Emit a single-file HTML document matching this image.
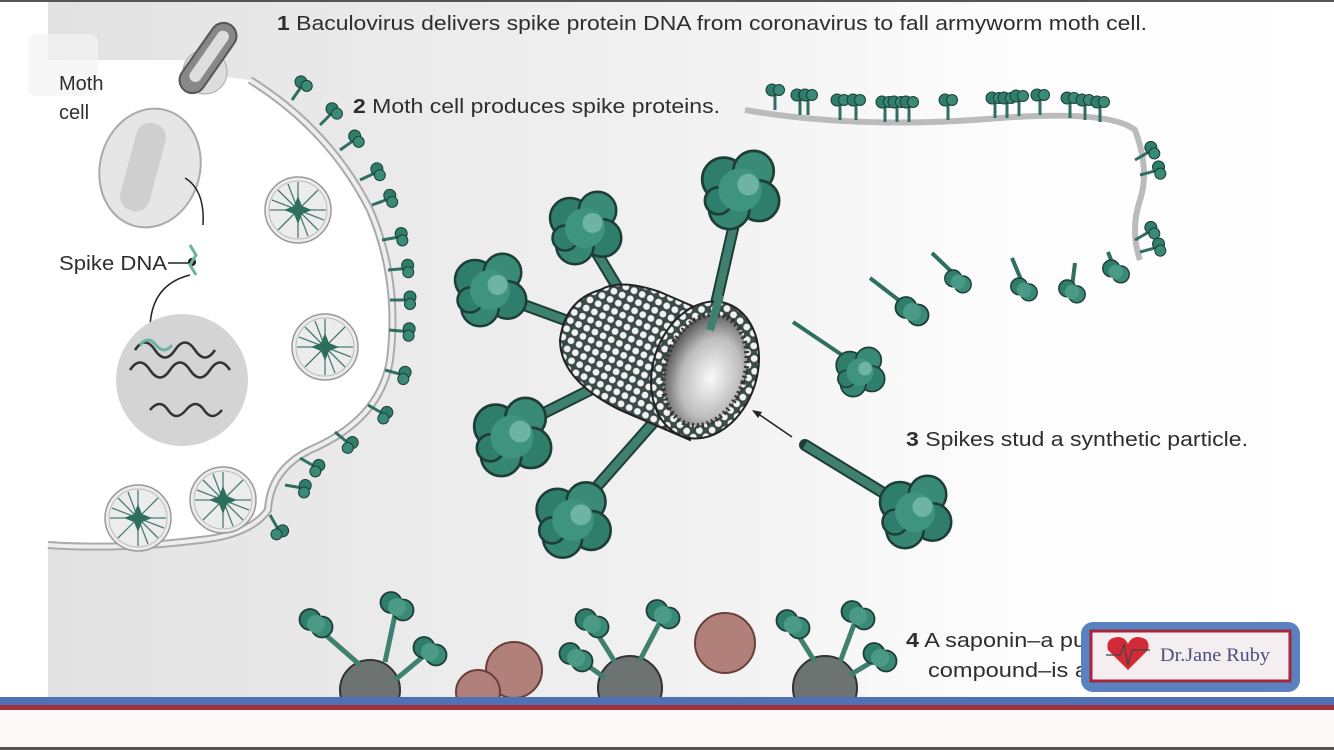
<!DOCTYPE html>
<html><head><meta charset="utf-8"><style>
html,body{margin:0;padding:0;width:1334px;height:750px;overflow:hidden;background:#fff}
svg{display:block}
text{font-family:"Liberation Sans",sans-serif;fill:#2e2e2e}
</style></head><body>
<svg width="1334" height="750" viewBox="0 0 1334 750" xmlns="http://www.w3.org/2000/svg">
<defs>
<linearGradient id="bg" x1="0" y1="0" x2="1" y2="0">
<stop offset="0" stop-color="#e2e2e2"/><stop offset="0.55" stop-color="#f3f3f3"/><stop offset="0.75" stop-color="#fdfdfd"/><stop offset="1" stop-color="#fff"/>
</linearGradient>
<radialGradient id="hole" cx="0.6" cy="0.55" r="0.6">
<stop offset="0" stop-color="#fafafa"/><stop offset="0.6" stop-color="#bdbdbd"/><stop offset="1" stop-color="#555"/>
</radialGradient>
<pattern id="dots" width="9" height="9" patternUnits="userSpaceOnUse" patternTransform="rotate(25)">
<rect width="9" height="9" fill="#3a4a46"/><circle cx="4.5" cy="4.5" r="3.4" fill="#f2f2f2"/>
</pattern>
<g id="blob">
<circle cx="-12" cy="-8" r="16" fill="#2f7e6c" stroke="#1d3d36" stroke-width="2"/>
<circle cx="10" cy="-14" r="15" fill="#3a8a78" stroke="#1d3d36" stroke-width="2"/>
<circle cx="14" cy="8" r="15" fill="#2f7e6c" stroke="#1d3d36" stroke-width="2"/>
<circle cx="-8" cy="14" r="15" fill="#358673" stroke="#1d3d36" stroke-width="2"/>
<circle cx="-16" cy="8" r="10" fill="#2f7e6c" stroke="#1d3d36" stroke-width="2"/>
<circle cx="0" cy="0" r="16" fill="#3f9480"/>
<circle cx="6" cy="-4" r="8" fill="#6fb3a2"/>
</g>
<g id="sblob">
<circle cx="-4" cy="-3" r="7" fill="#2f7e6c" stroke="#1d3d36" stroke-width="1.2"/>
<circle cx="4" cy="2" r="7" fill="#3a8a78" stroke="#1d3d36" stroke-width="1.2"/>
<circle cx="0" cy="0" r="6" fill="#4a9a87"/>
</g>
<g id="tiny">
<line x1="0" y1="0" x2="0" y2="-16" stroke="#2f6e60" stroke-width="3"/>
<circle cx="-3" cy="-20" r="6" fill="#2f7e6c" stroke="#1d3d36"/>
<circle cx="4" cy="-20" r="5.5" fill="#3a8a78" stroke="#1d3d36"/>
</g>
<g id="star">
<circle r="33" fill="#ececec" stroke="#999" stroke-width="1.5"/>
<circle r="29" fill="none" stroke="#bbb" stroke-width="1"/>
<g stroke="#4a7d70" stroke-width="1.3">
<line x1="-28" y1="0" x2="28" y2="0"/><line x1="0" y1="-28" x2="0" y2="28"/>
<line x1="-20" y1="-20" x2="20" y2="20"/><line x1="-20" y1="20" x2="20" y2="-20"/>
<line x1="-26" y1="-10" x2="26" y2="10"/><line x1="-10" y1="-26" x2="10" y2="26"/>
</g>
<path d="M0-14L4-4 14 0 4 4 0 14-4 4-14 0-4-4Z" fill="#2d6e5f"/>
</g>
</defs>

<rect x="0" y="0" width="1334" height="750" fill="#fff"/>
<rect x="48" y="0" width="1286" height="700" fill="url(#bg)"/>
<path d="M48 60 L180 60 Q200 60 210 75 L250 80 Q330 130 370 210 Q400 280 390 360 Q380 420 310 450 Q270 470 270 510 Q250 535 200 540 Q120 550 48 545 Z" fill="#fff"/>
<path d="M250 80 Q330 130 370 210 Q400 280 390 360 Q380 420 310 450 Q270 470 268 510 Q250 535 200 540 Q120 550 48 545" fill="none" stroke="#aaa" stroke-width="8"/>
<path d="M250 80 Q330 130 370 210 Q400 280 390 360 Q380 420 310 450 Q270 470 268 510 Q250 535 200 540 Q120 550 48 545" fill="none" stroke="#eee" stroke-width="4"/>
<g>
<use href="#tiny" transform="translate(292,100) rotate(35)"/>
<use href="#tiny" transform="translate(320,125) rotate(45)"/>
<use href="#tiny" transform="translate(340,150) rotate(55)"/>
<use href="#tiny" transform="translate(360,180) rotate(65)"/>
<use href="#tiny" transform="translate(372,205) rotate(70)"/>
<use href="#tiny" transform="translate(382,240) rotate(80)"/>
<use href="#tiny" transform="translate(388,270) rotate(85)"/>
<use href="#tiny" transform="translate(390,300) rotate(90)"/>
<use href="#tiny" transform="translate(389,330) rotate(95)"/>
<use href="#tiny" transform="translate(385,370) rotate(105)"/>
<use href="#tiny" transform="translate(368,405) rotate(120)"/>
<use href="#tiny" transform="translate(335,432) rotate(130)"/>
<use href="#tiny" transform="translate(300,458) rotate(120)"/>
<use href="#tiny" transform="translate(285,485) rotate(100)"/>
<use href="#tiny" transform="translate(270,515) rotate(150)"/>
</g>
<circle cx="205" cy="72" r="22" fill="#ddd" stroke="#aaa"/>
<rect x="195" y="18" width="26" height="80" rx="13" fill="#888" stroke="#555" stroke-width="2" transform="rotate(35 208 58)"/>
<rect x="202" y="26" width="12" height="60" rx="6" fill="#ddd" transform="rotate(35 208 58)"/>
<rect x="28" y="34" width="70" height="62" rx="8" fill="#f4f4f4" opacity="0.7"/>
<ellipse cx="150" cy="168" rx="50" ry="60" transform="rotate(15 150 168)" fill="#e6e6e6" stroke="#aaa" stroke-width="2"/>
<rect x="128" y="122" width="30" height="90" rx="14" fill="#cfcfcf" transform="rotate(15 143 167)"/>
<path d="M185 178 Q205 190 203 225" fill="none" stroke="#222" stroke-width="1.5"/>
<circle cx="192" cy="262" r="4" fill="#1a1a1a"/>
<path d="M190 245 l6 10 -6 10 6 10" stroke="#6ab3a0" fill="none" stroke-width="3"/>
<path d="M190 275 Q150 285 150 330" fill="none" stroke="#222" stroke-width="1.5"/>
<circle cx="182" cy="380" r="66" fill="#d4d4d4"/>
<path d="M130 370 q10-15 20 0 t20 0 t20 0 t20 0 t20 0 M135 350 q10-15 20 0 t20 0 t20 0 t20 0 M150 410 q10-12 18 0 t18 0 t18 0 t18 0" fill="none" stroke="#333" stroke-width="2.5"/>
<path d="M140 345 q8-10 16 0 t16 0" stroke="#6ab3a0" fill="none" stroke-width="3"/>
<use href="#star" transform="translate(298,210)"/>
<use href="#star" transform="translate(325,347)"/>
<use href="#star" transform="translate(138,518)"/>
<use href="#star" transform="translate(223,500)"/>

<path d="M745 110 Q860 130 1000 118 Q1110 110 1135 130 Q1150 170 1140 200 Q1130 230 1140 260" fill="none" stroke="#bbb" stroke-width="6"/>
<g>
<use href="#tiny" transform="translate(775,110)"/><use href="#tiny" transform="translate(800,115)"/><use href="#tiny" transform="translate(808,115)"/>
<use href="#tiny" transform="translate(840,120)"/><use href="#tiny" transform="translate(856,120)"/>
<use href="#tiny" transform="translate(885,122)"/><use href="#tiny" transform="translate(897,122)"/><use href="#tiny" transform="translate(909,122)"/>
<use href="#tiny" transform="translate(948,120)"/>
<use href="#tiny" transform="translate(995,118)"/><use href="#tiny" transform="translate(1007,118)"/><use href="#tiny" transform="translate(1019,116)"/><use href="#tiny" transform="translate(1040,115)"/>
<use href="#tiny" transform="translate(1070,118)"/><use href="#tiny" transform="translate(1085,120)"/><use href="#tiny" transform="translate(1100,122)"/>
<use href="#tiny" transform="translate(1135,160) rotate(60)"/><use href="#tiny" transform="translate(1140,175) rotate(75)"/>
<use href="#tiny" transform="translate(1135,240) rotate(60)"/><use href="#tiny" transform="translate(1140,252) rotate(75)"/>
</g>
<g stroke="#2f6e60" stroke-width="4">
<line x1="870" y1="278" x2="905" y2="305"/><line x1="932" y1="253" x2="955" y2="275"/>
<line x1="1012" y1="258" x2="1022" y2="282"/><line x1="1075" y1="263" x2="1072" y2="287"/>
<line x1="1108" y1="252" x2="1115" y2="270"/><line x1="793" y1="322" x2="842" y2="355"/>
</g>
<use href="#sblob" transform="translate(912,312) scale(1.5)"/>
<use href="#sblob" transform="translate(958,282) scale(1.2)"/>
<use href="#sblob" transform="translate(1024,290) scale(1.2)"/>
<use href="#sblob" transform="translate(1072,292) scale(1.2)"/>
<use href="#sblob" transform="translate(1116,272) scale(1.2)"/>
<use href="#blob" transform="translate(860,372) scale(0.85)"/>

<g stroke="#1d3d36" stroke-width="12" stroke-linecap="round">
<line x1="628" y1="305" x2="595" y2="250"/><line x1="710" y1="330" x2="735" y2="220"/>
<line x1="565" y1="320" x2="505" y2="298"/><line x1="590" y1="390" x2="530" y2="420"/>
<line x1="660" y1="415" x2="585" y2="500"/><line x1="805" y1="445" x2="895" y2="500"/>
</g>
<g stroke="#3f8070" stroke-width="8">
<line x1="628" y1="305" x2="595" y2="250"/><line x1="710" y1="330" x2="735" y2="220"/>
<line x1="565" y1="320" x2="505" y2="298"/><line x1="590" y1="390" x2="530" y2="420"/>
<line x1="660" y1="415" x2="585" y2="500"/><line x1="805" y1="445" x2="895" y2="500"/>
</g>
<path d="M600 290 Q620 278 660 292 L720 318 L690 440 L620 410 Q560 380 560 340 Q565 300 600 290Z" fill="url(#dots)" stroke="#222" stroke-width="2"/>
<ellipse cx="705" cy="370" rx="52" ry="70" transform="rotate(18 705 370)" fill="url(#dots)" stroke="#222" stroke-width="2"/>
<ellipse cx="705" cy="370" rx="40" ry="57" transform="rotate(18 705 370)" fill="url(#hole)" stroke="#333" stroke-width="5" stroke-dasharray="2 3"/>
<line x1="710" y1="330" x2="720" y2="295" stroke="#3f8070" stroke-width="8"/>
<use href="#blob" transform="translate(585,228) scale(1.25)"/>
<use href="#blob" transform="translate(740,190) scale(1.35)"/>
<use href="#blob" transform="translate(490,290) scale(1.25)"/>
<use href="#blob" transform="translate(512,437) scale(1.35)"/>
<use href="#blob" transform="translate(573,520) scale(1.3)"/>
<use href="#blob" transform="translate(915,512) scale(1.25)"/>
<line x1="792" y1="437" x2="757" y2="413" stroke="#222" stroke-width="1.5"/>
<path d="M752 410 l10 2 -4 6z" fill="#222"/>

<g>
<circle cx="370" cy="690" r="30" fill="#6d7370" stroke="#333" stroke-width="2"/>
<circle cx="630" cy="688" r="32" fill="#6d7370" stroke="#333" stroke-width="2"/>
<circle cx="825" cy="688" r="32" fill="#6d7370" stroke="#333" stroke-width="2"/>
<circle cx="514" cy="670" r="28" fill="#b2807b" stroke="#6a3f3a" stroke-width="2"/>
<circle cx="478" cy="692" r="22" fill="#b2807b" stroke="#6a3f3a" stroke-width="2"/>
<circle cx="725" cy="643" r="30" fill="#b2807b" stroke="#6a3f3a" stroke-width="2"/>
<g stroke="#3f8070" stroke-width="5">
<line x1="360" y1="665" x2="320" y2="630"/><line x1="385" y1="662" x2="395" y2="615"/><line x1="395" y1="680" x2="425" y2="655"/>
<line x1="615" y1="662" x2="595" y2="630"/><line x1="640" y1="660" x2="660" y2="622"/><line x1="605" y1="678" x2="580" y2="660"/>
<line x1="815" y1="662" x2="795" y2="630"/><line x1="840" y1="662" x2="855" y2="622"/><line x1="850" y1="675" x2="875" y2="660"/>
</g>
<use href="#sblob" transform="translate(316,624) scale(1.5)"/><use href="#sblob" transform="translate(397,607) scale(1.5)"/><use href="#sblob" transform="translate(430,652) scale(1.5)"/>
<use href="#sblob" transform="translate(592,624) scale(1.5)"/><use href="#sblob" transform="translate(663,615) scale(1.5)"/><use href="#sblob" transform="translate(576,658) scale(1.5)"/>
<use href="#sblob" transform="translate(793,625) scale(1.5)"/><use href="#sblob" transform="translate(858,616) scale(1.5)"/><use href="#sblob" transform="translate(880,658) scale(1.5)"/>
</g>

<text x="277" y="30" font-size="20" textLength="870" lengthAdjust="spacingAndGlyphs"><tspan font-weight="bold">1</tspan> Baculovirus delivers spike protein DNA from coronavirus to fall armyworm moth cell.</text>
<text x="353" y="113" font-size="20" textLength="367" lengthAdjust="spacingAndGlyphs"><tspan font-weight="bold">2</tspan> Moth cell produces spike proteins.</text>
<text x="906" y="446" font-size="20" textLength="342" lengthAdjust="spacingAndGlyphs"><tspan font-weight="bold">3</tspan> Spikes stud a synthetic particle.</text>
<text x="906" y="647" font-size="20" textLength="180" lengthAdjust="spacingAndGlyphs"><tspan font-weight="bold">4</tspan> A saponin–a pu</text>
<text x="928" y="677" font-size="20" textLength="160" lengthAdjust="spacingAndGlyphs">compound–is a</text>
<text x="59" y="90" font-size="20">Moth</text>
<text x="59" y="119" font-size="20">cell</text>
<text x="59" y="270" font-size="20" textLength="108" lengthAdjust="spacingAndGlyphs">Spike DNA</text>
<line x1="168" y1="263" x2="188" y2="263" stroke="#222" stroke-width="1.5"/>

<rect x="1081" y="622" width="219" height="70" rx="12" fill="#5a82c0"/>
<rect x="1091" y="631" width="199" height="50" fill="#f4eef0" stroke="#a2283a" stroke-width="3"/>
<path d="M1128 670 L1108 650 Q1105 638 1118 637 Q1125 637 1128 644 Q1131 637 1138 637 Q1151 638 1148 650 Z" fill="#d22a36"/>
<path d="M1106 655 H1120 L1124 645 L1128 665 L1132 650 H1150" fill="none" stroke="#444" stroke-width="1.3"/>
<text x="1160" y="661" font-size="19" style="font-family:'Liberation Serif',serif;fill:#4b4f7a" textLength="110" lengthAdjust="spacingAndGlyphs">Dr.Jane Ruby</text>

<rect x="0" y="697" width="1334" height="8" fill="#4f72b6"/>
<rect x="0" y="705" width="1334" height="5" fill="#a03040"/>
<rect x="0" y="710" width="1334" height="40" fill="#fbf9f8"/>
<rect x="0" y="747" width="1334" height="3" fill="#555"/>
<rect x="0" y="0" width="1334" height="2" fill="#555"/>
</svg>
</body></html>
